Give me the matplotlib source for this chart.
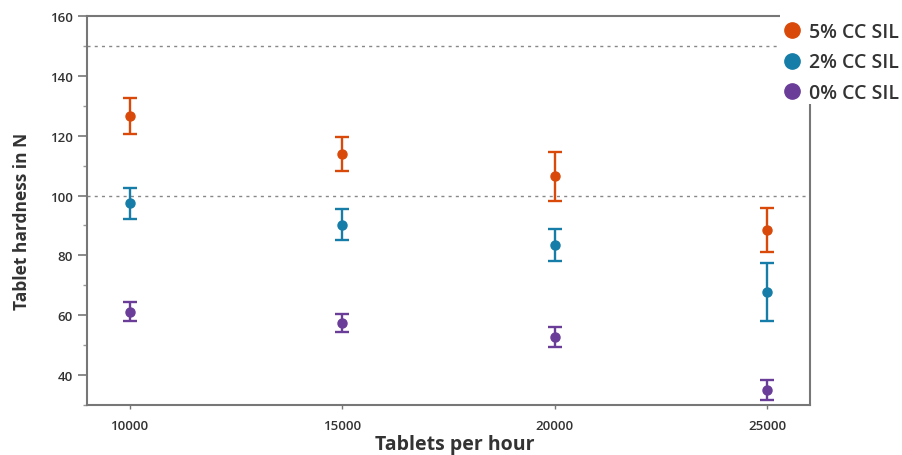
import matplotlib
matplotlib.use("Agg")
import matplotlib.pyplot as plt
from matplotlib.lines import Line2D
from matplotlib.patches import Rectangle
from matplotlib.ticker import MultipleLocator

plt.rcParams['font.family'] = ['Open Sans', 'DejaVu Sans']

tablets_per_hour = [10000, 15000, 20000, 25000]
series_names = ["5% CC SIL", "2% CC SIL", "0% CC SIL"]
mean_5 = [126.6, 114.0, 106.4, 88.6]
err_5 = [6.0, 5.7, 8.1, 7.4]
mean_2 = [97.4, 90.2, 83.4, 67.9]
err_2 = [5.2, 5.2, 5.4, 9.7]
mean_0 = [61.2, 57.4, 52.8, 35.0]
err_0 = [3.2, 3.0, 3.4, 3.2]
ref_lines = [150, 100]
colors = ["#D94A0A", "#157DA8", "#6A3D99"]

fig = plt.figure(figsize=(9.02, 4.56), dpi=100)
ax = fig.add_axes([87/902, 50/456, (810-87)/902, (406-17)/456])

for m, e, c in zip([mean_5, mean_2, mean_0], [err_5, err_2, err_0], colors):
    ax.errorbar(tablets_per_hour, m, yerr=e, fmt='o', color=c, ecolor=c,
                markersize=6.5, elinewidth=1.7, capsize=4.8, capthick=1.7, zorder=3)

for v in ref_lines:
    ax.axhline(v, color='#888888', linewidth=1.0, linestyle=(0, (2.2, 3)), zorder=1)

ax.set_xlim(9000, 26000)
ax.set_ylim(30, 160)
ax.set_xticks(tablets_per_hour)
ax.set_yticks(range(40, 161, 20))
ax.yaxis.set_minor_locator(MultipleLocator(10))

for s in ax.spines.values():
    s.set_color('#777777')
    s.set_linewidth(1.5)

ax.tick_params(axis='y', which='major', length=6.5, width=1.2, color='#777777',
               labelsize=9.5, labelcolor='#333333', pad=3.5)
ax.tick_params(axis='y', which='minor', length=3, width=1.0, color='#999999')
ax.tick_params(axis='x', which='major', length=3, width=1.0, color='#777777',
               labelsize=9.5, labelcolor='#333333', pad=7)
for lbl in ax.get_xticklabels() + ax.get_yticklabels():
    lbl.set_fontweight('semibold')

ax.set_xlabel("Tablets per hour", fontsize=14, fontweight='bold', color='#333333')
ax.set_ylabel("Tablet hardness in N", fontsize=12.5, fontweight='bold', color='#333333')
ax.xaxis.set_label_coords(0.508, -0.075)
ax.yaxis.set_label_coords(-0.078, 0.474)

# white box covering top-right corner where legend sits
fig.patches.append(Rectangle((780/902, 1 - 105/456), 122/902, 105/456,
                             transform=fig.transFigure, facecolor='white',
                             edgecolor='none', zorder=10))

handles = [Line2D([], [], marker='o', linestyle='none', color=c, markersize=11)
           for c in colors]
leg = fig.legend(handles, series_names, loc='upper left',
                 bbox_to_anchor=(784.5/902, 1 - 23/456), frameon=False,
                 handlelength=0.8, handletextpad=0.45, labelspacing=0.54,
                 borderpad=0, borderaxespad=0,
                 prop={'size': 14, 'weight': 'semibold'})
leg.set_zorder(11)
for t in leg.get_texts():
    t.set_color('#333333')

fig.savefig("out.png", dpi=100)
